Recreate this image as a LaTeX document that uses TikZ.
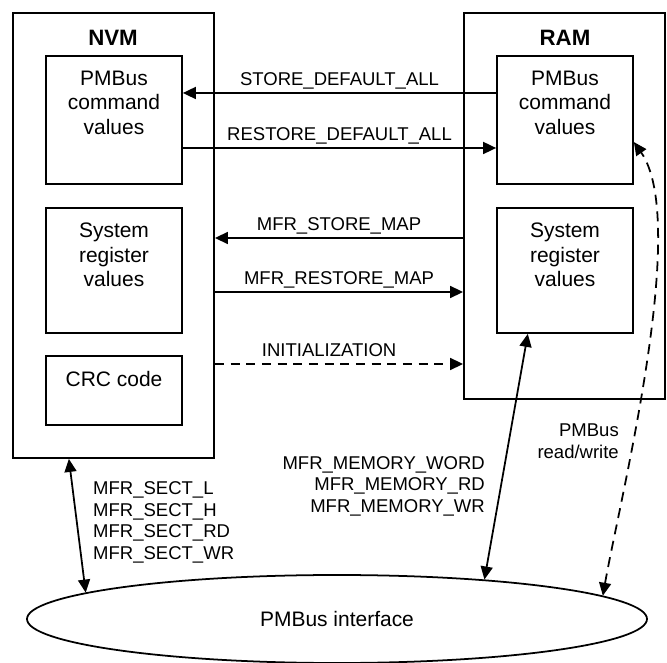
\documentclass[tikz,border=0pt]{standalone}
\usepackage{fontspec}
\setmainfont{Liberation Sans}
\usetikzlibrary{arrows.meta,positioning,calc,shapes.geometric}
\tikzset{
  memory/.style={draw, line width=1.6pt, minimum width=6.03cm, inner sep=0pt},
  membox/.style={draw, line width=1.5pt, minimum width=4.08cm, inner sep=0pt},
  boxtext/.style={anchor=north, align=center, inner sep=0pt,
                  font=\fontsize{17.9}{20.8}\selectfont},
  memtitle/.style={font=\bfseries\fontsize{19}{22}\selectfont, inner sep=0pt},
  lbl/.style={font=\fontsize{15.8}{18.4}\selectfont, inner sep=0pt,
              text height=0.72em, text depth=0.2em},
  note/.style={font=\fontsize{15.8}{18.4}\selectfont, inner sep=0pt},
  arrow/.style={-{Triangle[length=0.39cm,width=0.36cm]}, line width=1.5pt},
  dblarrow/.style={{Triangle[length=0.39cm,width=0.36cm]}-{Triangle[length=0.39cm,width=0.36cm]},
                   line width=1.5pt},
  dasharrow/.style={arrow, dash pattern=on 0.27cm off 0.2cm},
  dbldasharrow/.style={dblarrow, dash pattern=on 0.3cm off 0.2cm},
  bus/.style={draw, ellipse, line width=1.5pt, minimum width=18.6cm, minimum height=2.64cm,
              inner sep=0pt, font=\fontsize{17.9}{20.8}\selectfont},
}
\begin{document}
\begin{tikzpicture}
\useasboundingbox (0,0) rectangle (20.01,19.86);

% ================= NVM =================
\node[memory, minimum height=13.35cm] (nvm) at (3.405,12.795) {};
\node[memtitle] (nvmtitle) at (3.39,18.72) {NVM};
\node[membox, minimum height=3.84cm] (nvmpm) at (3.42,16.26) {};
\node[membox, minimum height=3.75cm] (nvmsys) at (3.42,11.745) {};
\node[membox, minimum height=2.07cm] (crc) at (3.42,8.145) {};
\node[boxtext] (nvmpmtxt) at ([yshift=-0.47cm]nvmpm.north) {PMBus\\command\\values};
\node[boxtext] (nvmsystxt) at ([yshift=-0.47cm]nvmsys.north) {System\\register\\values};
\node[boxtext] (crctxt) at ([yshift=-0.47cm]crc.north) {CRC code};

% ================= RAM =================
\node[memory, minimum height=11.58cm] (ram) at (16.935,13.68) {};
\node[memtitle] (ramtitle) at (16.95,18.72) {RAM};
\node[membox, minimum height=3.84cm] (rampm) at (16.95,16.26) {};
\node[membox, minimum height=3.75cm] (ramsys) at (16.95,11.745) {};
\node[boxtext] (rampmtxt) at ([yshift=-0.47cm]rampm.north) {PMBus\\command\\values};
\node[boxtext] (ramsystxt) at ([yshift=-0.47cm]ramsys.north) {System\\register\\values};

% ================= interface =================
\node[bus] (ifc) at (10.11,1.29) {PMBus interface};

% ================= transfers =================
\draw[arrow] (rampm.west |- 0,17.07) -- node[lbl, above=0.14cm] (sdall) {STORE\_DEFAULT\_ALL}
  (nvmpm.east |- 0,17.07);
\draw[arrow] (nvmpm.east |- 0,15.42) -- node[lbl, above=0.14cm] (rdall) {RESTORE\_DEFAULT\_ALL}
  (rampm.west |- 0,15.42);
\draw[arrow] (ram.west |- 0,12.72) -- node[lbl, above=0.14cm] (smap) {MFR\_STORE\_MAP}
  (nvm.east |- 0,12.72);
\draw[arrow] (nvm.east |- 0,11.10) -- node[lbl, above=0.14cm] (rmap) {MFR\_RESTORE\_MAP}
  (ram.west |- 0,11.10);
\draw[dasharrow] (nvm.east |- 0,8.94) -- node[lbl, above=0.14cm, pos=0.46] (init) {INITIALIZATION}
  (ram.west |- 0,8.94);

% ================= bus access =================
\draw[dblarrow] ($(nvm.south west)!0.28!(nvm.south east)$) -- (ifc.174);
\draw[dblarrow] ($(ramsys.south west)!0.23!(ramsys.south east)$) -- (ifc.15.5);
\draw[dbldasharrow] (ifc.5.5) to[out=80, in=-55, looseness=0.55]
  ($(rampm.north east)!0.67!(rampm.south east)$);

\node[note, anchor=west, align=left] (sect) at (2.79,4.185)
  {MFR\_SECT\_L\\MFR\_SECT\_H\\MFR\_SECT\_RD\\MFR\_SECT\_WR};
\node[note, anchor=east, align=right] (memw) at (14.55,5.28)
  {MFR\_MEMORY\_WORD\\MFR\_MEMORY\_RD\\MFR\_MEMORY\_WR};
\node[note, anchor=east, align=right] (rw) at (18.57,6.63) {PMBus\\read/write};
\end{tikzpicture}
\end{document}
